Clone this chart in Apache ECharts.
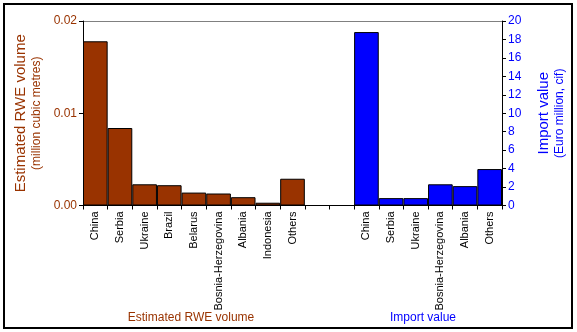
<!DOCTYPE html>
<html>
<head>
<meta charset="utf-8">
<script src="https://cdn.jsdelivr.net/npm/echarts@6/dist/echarts.min.js"></script>
<style>
html,body{margin:0;padding:0;background:#fff;}
#c{width:577px;height:332px;}
</style>
</head>
<body>
<div id="c"></div>
<script>
var rweCategories = ['China','Serbia','Ukraine','Brazil','Belarus','Bosnia-Herzegovina','Albania','Indonesia','Others'];
var rweVolume = [0.0178,0.0084,0.0023,0.0022,0.0014,0.0013,0.0009,0.0003,0.0029];
var importCategories = ['China','Serbia','Ukraine','Bosnia-Herzegovina','Albania','Others'];
var importValue = [18.8,0.8,0.8,2.3,2.1,3.95];
var gapSlots = 2;
var leftTicks = [0, 0.01, 0.02];
var rightTicks = [0,2,4,6,8,10,12,14,16,18,20];

var categories = rweCategories.slice();
for (var i = 0; i < gapSlots; i++) categories.push('');
categories = categories.concat(importCategories);

var s1 = rweVolume.slice();
while (s1.length < categories.length) s1.push('-');
var s2 = [];
for (var j = 0; j < rweCategories.length + gapSlots; j++) s2.push('-');
s2 = s2.concat(importValue);

var BROWN = '#993300', BLUE = '#0000FF';
var FONT = 'Liberation Sans, Arial, sans-serif';

var chart = echarts.init(document.getElementById('c'), null, {renderer: 'canvas'});
chart.setOption({
  animation: false,
  backgroundColor: '#fff',
  textStyle: {fontFamily: FONT},
  grid: {left: 83, right: 75, top: 21, bottom: 126.5},
  xAxis: {
    type: 'category',
    data: categories,
    axisLine: {lineStyle: {color: '#000', width: 1}},
    axisTick: {show: true, interval: 0, length: 4, lineStyle: {color: '#000'}},
    axisLabel: {interval: 0, rotate: 90, margin: 6, fontSize: 11, color: '#000', fontFamily: FONT},
    splitLine: {show: false}
  },
  yAxis: [{
    type: 'value',
    min: leftTicks[0], max: leftTicks[leftTicks.length-1], interval: 0.01,
    position: 'left',
    axisLine: {show: true, lineStyle: {color: '#000'}},
    axisTick: {show: true, length: 4, lineStyle: {color: '#000'}},
    axisLabel: {fontSize: 12, color: BROWN, margin: 6, fontFamily: FONT, formatter: function(v){return v.toFixed(2);}},
    splitLine: {show: true, lineStyle: {color: ['transparent','transparent','#808080'], width: 1}},
    name: '{a|Estimated RWE volume}\n{b|(million cubic metres)}',
    nameLocation: 'middle',
    nameRotate: 90,
    nameGap: 38,
    nameTextStyle: {
      color: BROWN, fontFamily: FONT, align: 'center',
      rich: {a: {fontSize: 15, color: BROWN, lineHeight: 17, fontFamily: FONT}, b: {fontSize: 12, color: BROWN, lineHeight: 15, fontFamily: FONT}}
    }
  }, {
    type: 'value',
    min: rightTicks[0], max: rightTicks[rightTicks.length-1], interval: 2,
    position: 'right',
    axisLine: {show: true, lineStyle: {color: '#000'}},
    axisTick: {show: true, length: 4, lineStyle: {color: '#000'}},
    axisLabel: {fontSize: 12, color: BLUE, margin: 6, fontFamily: FONT},
    splitLine: {show: false},
    name: '{a|Import value}\n{b|(Euro million, cif)}',
    nameLocation: 'middle',
    nameRotate: 90,
    nameGap: 33,
    nameTextStyle: {
      color: BLUE, fontFamily: FONT, align: 'center',
      rich: {a: {fontSize: 15, color: BLUE, lineHeight: 17, fontFamily: FONT}, b: {fontSize: 12, color: BLUE, lineHeight: 15, fontFamily: FONT}}
    }
  }],
  series: [{
    name: 'Estimated RWE volume',
    type: 'bar',
    yAxisIndex: 0,
    data: s1,
    barGap: '-100%',
    barCategoryGap: 0,
    itemStyle: {color: BROWN, borderColor: '#000', borderWidth: 1}
  }, {
    name: 'Import value',
    type: 'bar',
    yAxisIndex: 1,
    data: s2,
    barGap: '-100%',
    barCategoryGap: 0,
    itemStyle: {color: BLUE, borderColor: '#000', borderWidth: 1}
  }],
  graphic: [
    {type: 'rect', shape: {x: 4, y: 4, width: 568, height: 324}, style: {fill: 'none', stroke: '#000', lineWidth: 2}, silent: true},
    {type: 'text', x: 191, y: 318, style: {text: 'Estimated RWE volume', fill: BROWN, font: '12px ' + FONT, textAlign: 'center', textVerticalAlign: 'middle'}},
    {type: 'text', x: 423, y: 318, style: {text: 'Import value', fill: BLUE, font: '12px ' + FONT, textAlign: 'center', textVerticalAlign: 'middle'}}
  ]
});
</script>
</body>
</html>
